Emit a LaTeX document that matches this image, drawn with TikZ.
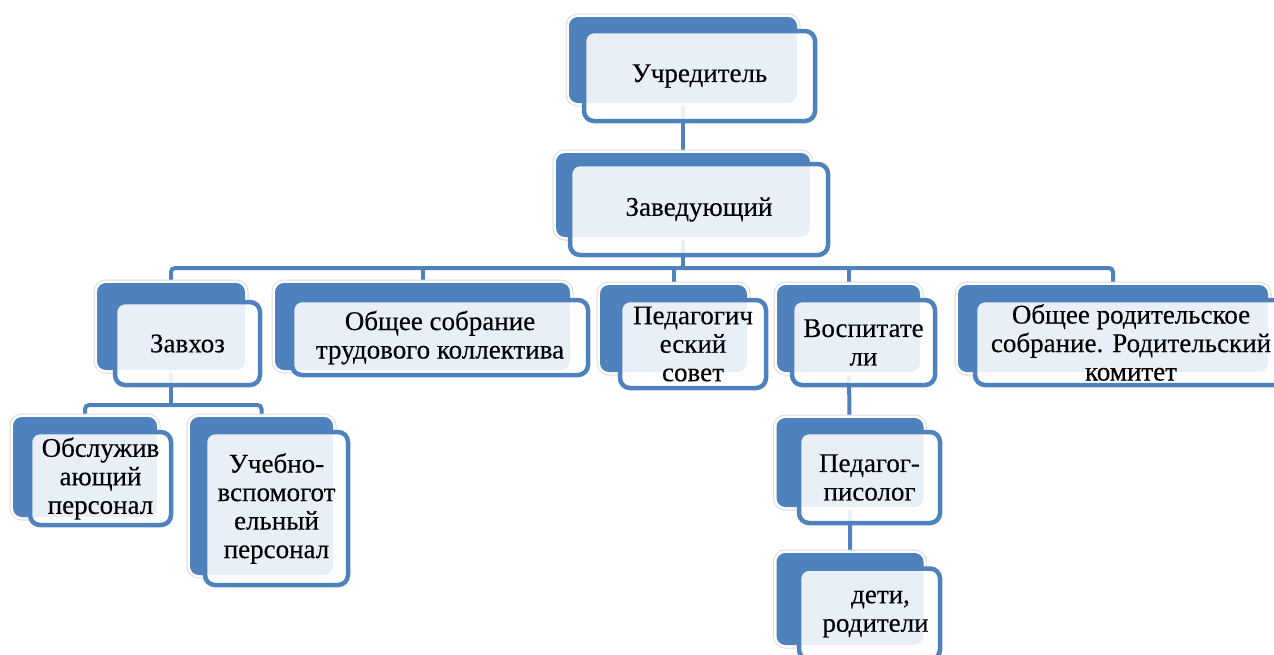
\documentclass[tikz,border=0pt]{standalone}
\usepackage{fontspec}
\setmainfont{Liberation Serif}
\newfontfamily\unitserif[FakeBold=0.3]{Liberation Serif}
\usepackage{tikz}
\usetikzlibrary{backgrounds}
\definecolor{blu}{HTML}{4F81BD}
\newcommand{\unitfont}{\unitserif\fontsize{27}{28.5}\selectfont}

\begin{document}
\begin{tikzpicture}[x=1pt,y=-1pt]
\tikzset{
    back/.style={rectangle,rounded corners=9pt,inner sep=0pt,
      preaction={draw=black!14,line width=7pt},
      draw=white,line width=5pt,postaction={fill=blu}},
    front/.style={rectangle,rounded corners=10pt,draw=blu,line width=4.5pt,
      fill=white,fill opacity=0.88,text opacity=1,align=center,
      font=\unitfont,inner sep=2pt},
    link/.style={draw=blu,line width=4pt,rounded corners=4pt}
}
\useasboundingbox (0,0) rectangle (1274,654);
  % units (back)
\node[back,minimum width=228pt,minimum height=86pt] (uch) at (683,60) {};
\node[back,minimum width=254pt,minimum height=84pt] (zav) at (683,195) {};
\node[back,minimum width=148pt,minimum height=87pt] (zavh) at (171,326.5) {};
\node[back,minimum width=295pt,minimum height=87pt] (obsch) at (422.5,326.5) {};
\node[back,minimum width=147pt,minimum height=87pt] (pedsov) at (673.5,328.5) {};
\node[back,minimum width=143pt,minimum height=87pt] (vosp) at (848.5,328.5) {};
\node[back,minimum width=310pt,minimum height=87pt] (orod) at (1113,328.5) {};
\node[back,minimum width=144pt,minimum height=100pt] (obsl) at (85,467) {};
\node[back,minimum width=143pt,minimum height=158pt] (ucheb) at (261.5,496) {};
\node[back,minimum width=147pt,minimum height=89pt] (psych) at (850,462.5) {};
\node[back,minimum width=147pt,minimum height=92pt] (deti) at (850,599) {};
  % units (front)
\node[front,minimum width=231pt,minimum height=90pt] (uch-t) at (699.5,76) {Учредитель};
\node[front,minimum width=258pt,minimum height=91pt] (zav-t) at (699,209.5) {Заведующий};
\node[front,minimum width=145pt,minimum height=83pt] (zavh-t) at (187.5,343.5) {Завхоз};
\node[front,minimum width=296pt,minimum height=75pt] (obsch-t) at (440,337.5) {Общее собрание\\трудового коллектива};
\node[front,minimum width=146pt,minimum height=88pt] (pedsov-t) at (693,344) {Педагогич\\еский\\совет};
\node[front,minimum width=143pt,minimum height=85pt] (vosp-t) at (863.5,342.5) {Воспитате\\ли};
\node[front,minimum width=312pt,minimum height=85pt] (orod-t) at (1131,342.5) {Общее родительское\\собрание. Родительский\\комитет};
\node[front,minimum width=141pt,minimum height=93pt] (obsl-t) at (100.5,478.5) {Обслужив\\ающий\\персонал};
\node[front,minimum width=143pt,minimum height=153pt] (ucheb-t) at (276.5,508.5) {Учебно-\\вспомогот\\ельный\\персонал};
\node[front,minimum width=141pt,minimum height=91pt] (psych-t) at (869.5,477.5) {Педагог-\\писолог};
\node[front,minimum width=141pt,minimum height=91pt] (deti-t) at (869.5,614) {\hspace*{22pt}дети,\\\hspace*{12pt}родители};
% links
\coordinate (bus) at (683,268);
\coordinate (bus2) at (171,405);
\begin{scope}[on background layer]
\draw[link] (uch) -- (zav);
\draw[link] (zavh) |- (bus) -| (orod);
\foreach \n in {zav,obsch,pedsov,vosp}
  \draw[link] (\n) -- (\n |- bus);
\draw[link] (zavh) -- (bus2);
\draw[link] (obsl) |- (bus2) -| (ucheb);
\draw[link] (vosp) -- (psych) -- (deti);
\end{scope}
\end{tikzpicture}
\end{document}
